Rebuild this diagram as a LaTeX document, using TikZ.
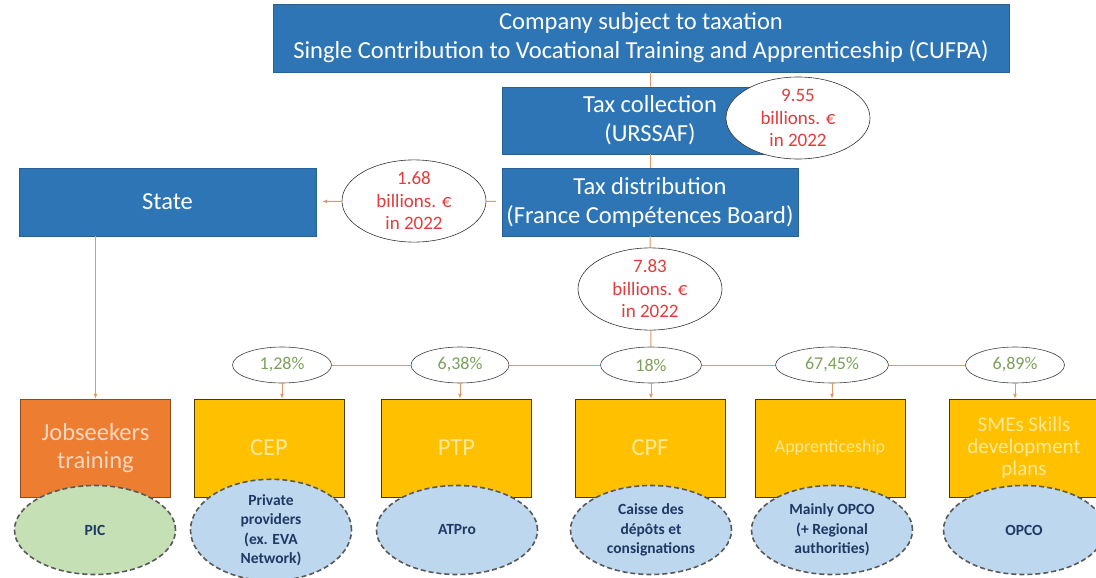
\documentclass[tikz,border=0pt]{standalone}
\usepackage{fontspec}
\setmainfont{Carlito}
\usetikzlibrary{arrows.meta,shapes.geometric}
\definecolor{boxblue}{RGB}{46,117,182}
\definecolor{boxblueline}{RGB}{40,96,150}
\definecolor{fundyellow}{RGB}{255,192,0}
\definecolor{fundtext}{RGB}{255,232,150}
\definecolor{jobsorange}{RGB}{237,125,49}
\definecolor{jobstext}{RGB}{250,215,190}
\definecolor{moneyred}{RGB}{226,60,60}
\definecolor{sharegreen}{RGB}{125,160,90}
\definecolor{actorblue}{RGB}{189,215,238}
\definecolor{actorgreen}{RGB}{197,224,180}
\definecolor{actortext}{RGB}{31,56,100}
\definecolor{flowline}{RGB}{226,150,100}

\begin{document}
\begin{tikzpicture}[x=1pt,y=-1pt,>={Latex[length=5pt,width=4pt]}]
  \tikzset{bluebox/.style={rectangle,fill=boxblue,draw=boxblueline,text=white,align=center,inner sep=0pt,
      font=\fontsize{24.5}{29}\selectfont},
    money/.style={ellipse,draw=black!80,line width=0.6pt,fill=white,text=moneyred,align=center,inner sep=0pt,
      minimum width=144pt,minimum height=82pt,font=\fontsize{19}{22.5}\selectfont},
    share/.style={ellipse,draw=black!75,line width=0.6pt,fill=white,text=sharegreen,inner sep=0pt,
      minimum height=36pt,font=\fontsize{18}{20}\selectfont},
    fund/.style={rectangle,fill=fundyellow,draw=black!70!fundyellow,text=fundtext,align=center,inner sep=0pt,
      minimum width=150pt,minimum height=98pt,font=\fontsize{24.5}{28}\selectfont},
    actor/.style={ellipse,draw=black!65,dashed,dash pattern=on 5pt off 3pt,line width=1.6pt,fill=actorblue,
      text=actortext,align=center,inner sep=0pt,minimum width=161pt,minimum height=89pt,
      font=\bfseries\fontsize{15.5}{19.5}\selectfont},
    flow/.style={draw=flowline,line width=1pt}}
  \useasboundingbox (0,0) rectangle (1096,578);
  % funding chain
  \node[bluebox,minimum width=736pt,minimum height=68pt] (company) at (641,38)
    {Company subject to taxation\\Single Contribution to Vocational Training and Apprenticeship (CUFPA)};
  \node[bluebox,minimum width=296pt,minimum height=67pt] (collect) at (650,120.5)
    {Tax collection\\(URSSAF)};
  \node[bluebox,minimum width=296pt,minimum height=68pt] (distrib) at (650,202)
    {Tax distribution\\(France Compétences Board)};
  \node[bluebox,minimum width=297pt,minimum height=68pt] (state) at (167.5,202) {State};
  % funds
  \node[fund,fill=jobsorange,draw=black!40!jobsorange,text=jobstext] (jobs) at (95.5,448) {Jobseekers\\training};
  \node[fund] (cep) at (269,448) {CEP};
  \node[fund] (ptp) at (456.5,448) {PTP};
  \node[fund] (cpf) at (650,448) {CPF};
  \node[fund,font=\fontsize{18}{22}\selectfont] (appr) at (830,448) {Apprenticeship};
  \node[fund,font=\fontsize{21}{22}\selectfont] (smes) at (1024,448) {SMEs Skills\\development\\plans};
  % amounts and shares
  \node[share,minimum width=99pt] (s128) at (282,365) {1,28\%};
  \node[share,minimum width=98pt] (s638) at (460,365) {6,38\%};
  \node[share,minimum width=101pt] (s18) at (651,365) {18\%};
  \node[share,minimum width=113pt] (s6745) at (832,365) {67,45\%};
  \node[share,minimum width=99pt] (s689) at (1015,365) {6,89\%};
  \draw[flow] (collect.north) -- (collect.north |- company.south);
  \draw[flow] (collect) -- (distrib);
  \draw[flow] (distrib.south) -- (s18.north);
  \draw[flow] (s128) -- (s638) -- (s18) -- (s6745) -- (s689);
  \draw[flow,->] (jobs.north |- state.south) -- (jobs.north);
  \draw[flow,->] (s128.south) -- (s128.south |- cep.north);
  \draw[flow,->] (s638.south) -- (s638.south |- ptp.north);
  \draw[flow,->] (s18.south) -- (s18.south |- cpf.north);
  \draw[flow,->] (s6745.south) -- (s6745.south |- appr.north);
  \draw[flow,->] (s689.south) -- (s689.south |- smes.north);
  \node[money] (m955) at (798,118) {9.55\\billions. €\\in 2022};
  \node[money] (m168) at (414,201) {1.68\\billions. €\\in 2022};
  \node[money,minimum height=76pt] (m783) at (650,289) {7.83\\billions. €\\in 2022};
  \draw[flow,shorten <=6pt] (distrib) -- (m168);
  \draw[flow,->,shorten >=6pt] (m168) -- (state);
  % operators
  \node[actor,fill=actorgreen] (pic) at (95,530) {PIC};
  \node[actor] (prov) at (271,530) {Private\\providers\\(ex. EVA\\Network)};
  \node[actor] (atpro) at (457,530) {ATPro};
  \node[actor] (cdc) at (651,530) {Caisse des\\dépôts et\\consignations};
  \node[actor] (opcoa) at (832,530) {Mainly OPCO\\(+ Regional\\authorities)};
  \node[actor] (opcob) at (1024,530) {OPCO};
\end{tikzpicture}
\end{document}
